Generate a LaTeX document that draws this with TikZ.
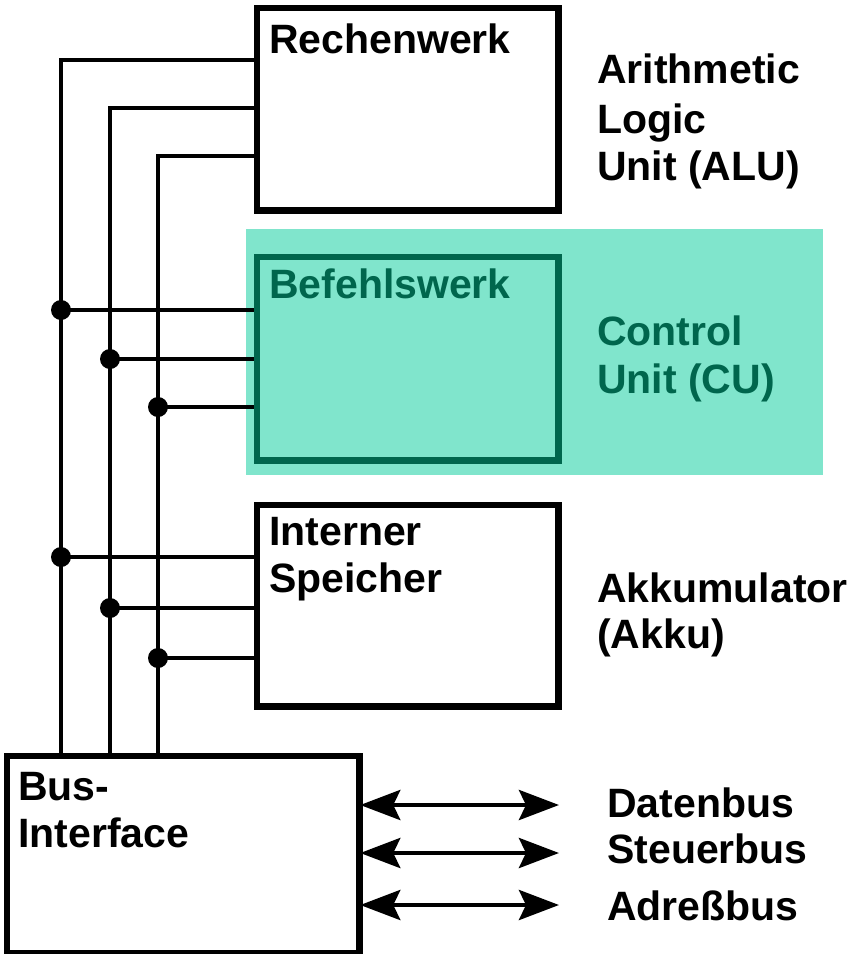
\documentclass[tikz,border=0pt]{standalone}
\usepackage{fontspec}
\setmainfont{Liberation Sans}
\usetikzlibrary{arrows.meta}
\definecolor{cubg}{HTML}{80E5CC}
\definecolor{cudark}{HTML}{00664D}
\begin{document}
\begin{tikzpicture}[x=1pt,y=-1pt,
  box/.style={draw=black,line width=4.5pt,inner sep=0pt},
  lbl/.style={anchor=base west,inner sep=0pt,font=\fontsize{41}{48}\selectfont\bfseries},
  wire/.style={line width=4.5pt,black},
  dot/.style={circle,fill=black,inner sep=0pt,minimum size=20pt},
  bushead/.style={Stealth[length=40pt,width=30pt,inset=7pt]},
  busarrow/.style={line width=4.5pt,{Stealth[length=40pt,width=30pt,inset=7pt]}-{Stealth[length=40pt,width=30pt,inset=7pt]}}]
\useasboundingbox (0,0) rectangle (859,954);
\node (cuarea) [fill=cubg,inner sep=0pt,minimum width=577pt,minimum height=246pt] at (534.5,352) {};
% coordinates of the vertical bus lines
\coordinate (v1) at (61,60);
\coordinate (v2) at (110,108);
\coordinate (v3) at (158,156);
\coordinate (c1) at (61,310);
\coordinate (c2) at (110,359);
\coordinate (c3) at (158,407);
\coordinate (s1) at (61,557);
\coordinate (s2) at (110,608);
\coordinate (s3) at (158,658);
% boxes
\node (alu) [box,minimum width=299pt,minimum height=200pt] at (407.5,109) {};
\node (cu) [box,draw=cudark,minimum width=299pt,minimum height=201pt] at (407.5,358.5) {};
\node (mem) [box,minimum width=299pt,minimum height=199pt] at (407.5,605.5) {};
\node (bus) [box,minimum width=350pt,minimum height=195pt] at (183,854.5) {};
% wires
\draw[wire] (v1 |- bus.north) -- (v1) -- (v1 -| alu.west);
\draw[wire] (v2 |- bus.north) -- (v2) -- (v2 -| alu.west);
\draw[wire] (v3 |- bus.north) -- (v3) -- (v3 -| alu.west);
\draw[wire] (c1) -- (c1 -| cu.west);
\draw[wire] (c2) -- (c2 -| cu.west);
\draw[wire] (c3) -- (c3 -| cu.west);
\draw[wire] (s1) -- (s1 -| mem.west);
\draw[wire] (s2) -- (s2 -| mem.west);
\draw[wire] (s3) -- (s3 -| mem.west);
\node (dc1) [dot] at (c1) {};
\node (dc2) [dot] at (c2) {};
\node (dc3) [dot] at (c3) {};
\node (ds1) [dot] at (s1) {};
\node (ds2) [dot] at (s2) {};
\node (ds3) [dot] at (s3) {};
% redraw box borders on top
\draw[line width=4.5pt] (alu.south west) rectangle (alu.north east);
\draw[line width=4.5pt,cudark] (cu.south west) rectangle (cu.north east);
\draw[line width=4.5pt] (mem.south west) rectangle (mem.north east);
\draw[line width=4.5pt] (bus.south west) rectangle (bus.north east);
% bus arrows
\coordinate (e1) at (559,805);
\coordinate (e2) at (559,853);
\coordinate (e3) at (559,905);
\draw[busarrow] (bus.east |- e1) -- (e1);
\draw[busarrow] (bus.east |- e2) -- (e2);
\draw[busarrow] (bus.east |- e3) -- (e3);
% labels in boxes
\node (t1) [lbl] at (269,53) {Rechenwerk};
\node (t2) [lbl,text=cudark] at (269,298) {Befehlswerk};
\node (t3) [lbl] at (269,545) {Interner};
\node (t4) [lbl] at (269,592) {Speicher};
\node (t5) [lbl] at (18,800) {Bus-};
\node (t6) [lbl] at (18,847) {Interface};
% labels right
\node (r1) [lbl] at (597,83) {Arithmetic};
\node (r2) [lbl] at (597,133) {Logic};
\node (r3) [lbl] at (597,180) {Unit (ALU)};
\node (r4) [lbl,text=cudark] at (597,345) {Control};
\node (r5) [lbl,text=cudark] at (597,393) {Unit (CU)};
\node (r6) [lbl] at (597,602) {Akkumulator};
\node (r7) [lbl] at (597,648) {(Akku)};
\node (b1) [lbl] at (607,817) {Datenbus};
\node (b2) [lbl] at (607,863) {Steuerbus};
\node (b3) [lbl] at (607,920) {Adreßbus};
\end{tikzpicture}
\end{document}
